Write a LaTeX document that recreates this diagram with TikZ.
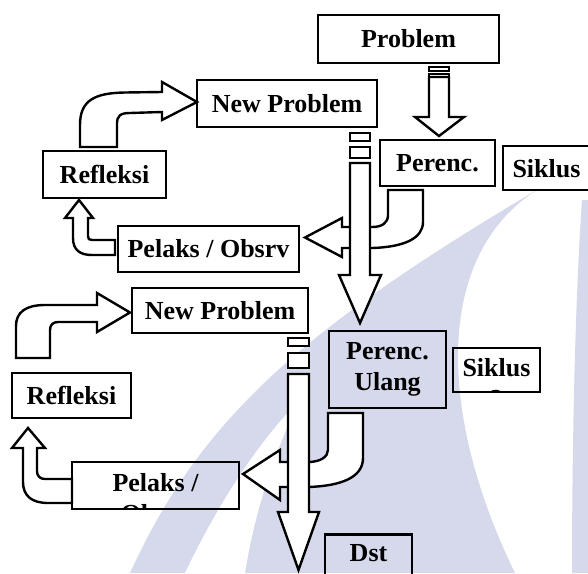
\documentclass[tikz,border=0pt]{standalone}
\usepackage{fontspec}
\setmainfont{Liberation Serif}
\usetikzlibrary{positioning,calc}

\definecolor{wmark}{RGB}{214,217,236}

\tikzset{
  box/.style={draw, line width=1.4pt, inner sep=0pt, align=center},
  wh/.style 2 args={minimum width=#1*0.5pt, minimum height=#2*0.5pt},
  cutbox/.style 2 args={path picture={\node[anchor=north, align=center, inner sep=0pt] at ([#1]path picture bounding box.north) {#2};}},
  blk/.style={draw, fill=white, line width=1.2pt, line join=miter},
}

\begin{document}
\begin{tikzpicture}[x=0.5pt, y=-0.5pt, every node/.style={font=\bfseries\fontsize{13}{15.5}\selectfont}]
    \clip (0,0) rectangle (588,573);
    \fill[white] (0,0) rectangle (588,573);
    % watermark in the back
    \fill[wmark] (130,573) .. controls (200,420) and (300,330) .. (540,188) .. controls (430,255) and (440,420) .. (515,573) -- cycle;
    \fill[white] (185,573) .. controls (220,500) and (260,440) .. (300,400) .. controls (275,450) and (255,510) .. (245,573) -- cycle;
    \fill[wmark] (582,200) .. controls (575,300) and (572,450) .. (572,573) -- (588,573) -- (588,200) -- cycle;

    % boxes
    \node[box, wh={181}{48}] (prob) at (408.5,39) {Problem};
    \node[box, wh={180}{47}] (np1) at (287,103.5) {New Problem};
    \node[box, wh={115}{46}] (per1) at (437.5,163) {Perenc.};
    \node[box, wh={97}{44}, cutbox={xshift=-2.5pt,yshift=-6pt}{Siklus\\1}] (sik1) at (551.5,168) {};
    \node[box, wh={123}{47}] (ref1) at (104.5,174.5) {Refleksi};
    \node[box, wh={181}{46}] (pel1) at (208.5,249) {Pelaks / Obsrv};
    \node[box, wh={176}{45}] (np2) at (220,310.5) {New Problem};
    \node[box, wh={117}{77}] (per2) at (387.5,369.5) {Perenc.\\Ulang};
    \node[box, wh={87}{44}, cutbox={yshift=-4.5pt}{Siklus\\2}] (sik2) at (496.5,370) {};
    \node[box, wh={119}{45}] (ref2) at (71.5,395.5) {Refleksi};
    \node[box, wh={167}{47}, cutbox={yshift=-5pt}{Pelaks /\\Obsrv}] (pel2) at (155.5,485.5) {};
    \node[box, minimum width=43.5pt, inner ysep=5pt, text depth=15pt, anchor=north] (dst) at (368.5,533) {Dst};

    % bent arrows out of the plans (behind the long shafts)
    \draw[blk] (388,190) -- (388,215) .. controls (388,223) and (382,227) .. (372,227) -- (342,227) -- (342,218) -- (305,237.5) -- (342,257) -- (342,248) -- (372,248) .. controls (405,247) and (423,238) .. (423,222) -- (423,190) -- cycle;
    \draw[blk] (328,413) -- (328,450) .. controls (328,457) and (320,462) .. (308,462) -- (280,462) -- (280,450) -- (243,474) -- (280,500) -- (280,487) -- (308,487) .. controls (340,486) and (363,478) .. (363,458) -- (363,413) -- cycle;

    % problem -> perenc.
    \draw[blk] (429,67) rectangle (449,71);
    \draw[blk] (429,74) rectangle (449,77);
    \draw[blk] (429,77) -- (429,117) -- (415,117) -- (439,136) -- (464,117) -- (449,117) -- (449,77) -- cycle;
    % new problem -> perenc. ulang
    \draw[blk] (350,133) rectangle (370,141);
    \draw[blk] (350,147) rectangle (370,158);
    \draw[blk] (350,163) -- (350,275) -- (339,275) -- (360,323) -- (381,275) -- (370,275) -- (370,163) -- cycle;
    % new problem -> dst
    \draw[blk] (288,338) rectangle (309,346);
    \draw[blk] (288,353) rectangle (309,368);
    \draw[blk] (288,374) -- (288,512) -- (278,512) -- (298.5,570) -- (319,512) -- (309,512) -- (309,374) -- cycle;

    % pelaks -> refleksi -> new problem (cycle 1)
    \draw[blk] (115,240) -- (92,240) .. controls (89,240) and (88,239) .. (88,236) -- (88,218) -- (93,218) -- (79,200) -- (65,218) -- (73,218) -- (73,238) .. controls (73,250) and (80,255) .. (92,255) -- (115,255) -- cycle;
    \draw[blk] (80,147) -- (80,125) .. controls (80,100) and (95,93) .. (125,92.5) -- (162,92) -- (162,82) -- (197,102) -- (162,120) -- (162,112) -- (130,113) .. controls (120,113) and (117,116) .. (117,124) -- (117,147) -- cycle;
    % pelaks -> refleksi -> new problem (cycle 2)
    \draw[blk] (72,479) -- (45,479) .. controls (40,479) and (37,476) .. (37,471) -- (37,448) -- (45,448) -- (28,428) -- (12,448) -- (23,448) -- (23,482) .. controls (23,496) and (32,503) .. (48,503) -- (72,503) -- cycle;
    \draw[blk] (16,358) -- (16,326) .. controls (16,312) and (26,305) .. (45,305) -- (97,305) -- (97,293) -- (130,312.5) -- (97,332) -- (97,322) -- (58,322) .. controls (53,322) and (50,325) .. (50,330) -- (50,358) -- cycle;
\end{tikzpicture}
\end{document}
